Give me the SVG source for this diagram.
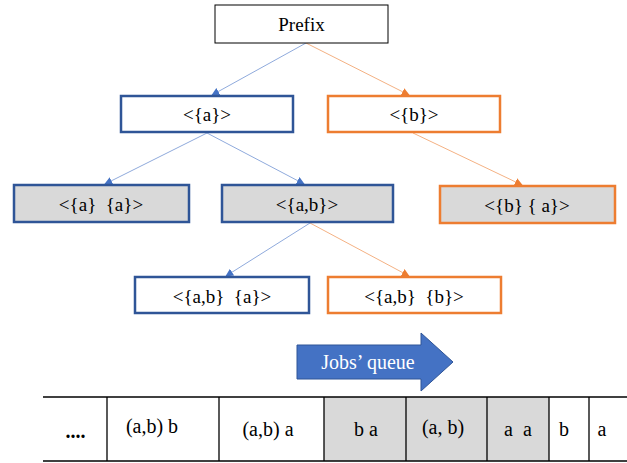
<svg xmlns="http://www.w3.org/2000/svg" width="627" height="463" viewBox="0 0 627 463">
<style>
text{font-family:"Liberation Serif","Times New Roman",serif;font-size:19px;fill:#000;text-anchor:middle;dominant-baseline:central;white-space:pre}
.t{font-size:20px}
.b{fill:#fff;stroke:#2F5597;stroke-width:2.5}
.bg{fill:#D9D9D9;stroke:#2F5597;stroke-width:2.5}
.o{fill:#fff;stroke:#ED7D31;stroke-width:2.5}
.og{fill:#D9D9D9;stroke:#ED7D31;stroke-width:2.5}
.lb{stroke:#8FAADC;stroke-width:1;fill:none}
.lo{stroke:#F4B183;stroke-width:1;fill:none}
.tl{stroke:#000;stroke-width:1.3}
.g{fill:#D9D9D9}
</style>
<defs>
<marker id="mb" viewBox="0 0 10 10" refX="9" refY="5" markerWidth="8" markerHeight="8" markerUnits="userSpaceOnUse" orient="auto"><path d="M0,0L10,5L0,10z" fill="#4472C4"/></marker>
<marker id="mo" viewBox="0 0 10 10" refX="9" refY="5" markerWidth="8" markerHeight="8" markerUnits="userSpaceOnUse" orient="auto"><path d="M0,0L10,5L0,10z" fill="#ED7D31"/></marker>
</defs>
<g id="connectors">
<line class="lb" x1="306" y1="43" x2="212" y2="95" marker-end="url(#mb)"/>
<line class="lo" x1="306" y1="43" x2="409" y2="95" marker-end="url(#mo)"/>
<line class="lb" x1="207" y1="133" x2="105" y2="184" marker-end="url(#mb)"/>
<line class="lb" x1="207" y1="133" x2="304" y2="184" marker-end="url(#mb)"/>
<line class="lo" x1="413" y1="133" x2="522" y2="185" marker-end="url(#mo)"/>
<line class="lb" x1="310" y1="223" x2="226" y2="276" marker-end="url(#mb)"/>
<line class="lo" x1="310" y1="223" x2="409" y2="276" marker-end="url(#mo)"/>
</g>
<g id="prefix"><rect x="215" y="5" width="173" height="38" fill="#fff" stroke="#000" stroke-width="1"/><text x="301.5" y="24">Prefix</text></g>
<g id="n_a"><rect class="b" x="121" y="96" width="172" height="36"/><text x="207" y="114">&lt;{a}&gt;</text></g>
<g id="n_b"><rect class="o" x="328" y="96" width="172" height="36"/><text x="414" y="114">&lt;{b}&gt;</text></g>
<g id="n_a_a"><rect class="bg" x="14" y="185" width="175" height="37"/><text x="101" y="204">&lt;{a}  {a}&gt;</text></g>
<g id="n_ab"><rect class="bg" x="222" y="185" width="171" height="37"/><text x="307" y="204">&lt;{a,b}&gt;</text></g>
<g id="n_b_a"><rect class="og" x="440" y="186" width="175" height="37"/><text x="527" y="205">&lt;{b} { a}&gt;</text></g>
<g id="n_ab_a"><rect class="b" x="135" y="277" width="174" height="36"/><text x="222" y="296">&lt;{a,b}  {a}&gt;</text></g>
<g id="n_ab_b"><rect class="o" x="328" y="277" width="173" height="36"/><text x="414" y="296">&lt;{a,b}  {b}&gt;</text></g>
<g id="jobs_queue">
<path d="M297,345H421V333L453,362L421,391V379H297Z" fill="#4472C4" stroke="#2F5597" stroke-width="1"/>
<text class="t" x="368" y="362" style="fill:#fff">Jobs’ queue</text>
</g>
<g id="queue_table">
<rect class="g" x="324" y="397" width="225" height="64"/>
<line class="tl" x1="43" y1="397" x2="627" y2="397"/>
<line class="tl" x1="43" y1="461" x2="627" y2="461"/>
<line class="tl" x1="107" y1="397" x2="107" y2="461"/>
<line class="tl" x1="219" y1="397" x2="219" y2="461"/>
<line class="tl" x1="324" y1="397" x2="324" y2="461"/>
<line class="tl" x1="406" y1="397" x2="406" y2="461"/>
<line class="tl" x1="487" y1="397" x2="487" y2="461"/>
<line class="tl" x1="549" y1="397" x2="549" y2="461"/>
<line class="tl" x1="589" y1="397" x2="589" y2="461"/>
<text class="t" x="75.5" y="431" style="font-weight:bold">....</text>
<text class="t" x="152" y="426">(a,b) b</text>
<text class="t" x="268" y="429">(a,b) a</text>
<text class="t" x="366" y="429">b a</text>
<text class="t" x="443" y="427">(a, b)</text>
<text class="t" x="518" y="429">a  a</text>
<text class="t" x="564" y="429">b</text>
<text class="t" x="602" y="429">a</text>
</g>
</svg>
